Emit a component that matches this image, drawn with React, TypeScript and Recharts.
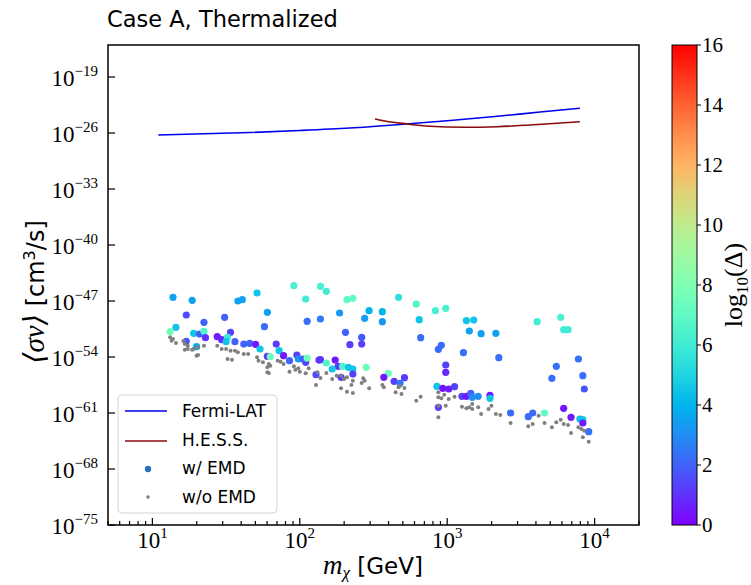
import React from "react";
import { ComposedChart, XAxis, YAxis, Line, Scatter } from "recharts";

// all values are log10 of the plotted quantity (log-log figure)
const fermiLogMass = [1.04, 1.66, 2.0, 2.34, 2.68, 3.02, 3.36, 3.63, 3.9];
const fermiLogSigma = [-26.25, -25.94, -25.69, -25.38, -24.94, -24.44, -23.88, -23.38, -22.91];

const hessLogMass = [2.51, 2.54, 2.73, 2.88, 3.11, 3.34, 3.56, 3.9];
const hessLogSigma = [-24.25, -24.38, -24.88, -25.16, -25.29, -25.21, -25.0, -24.59];

// [log10 m, log10 <sv>, log10 Delta]
const emdPoints: [number, number, number][] = [
  [1.14, -46.54, 3.5], [1.27, -46.91, 3.5], [1.23, -48.75, 1.5], [1.35, -49.66, 2.0],
  [1.16, -50.29, 4.5], [1.12, -50.84, 7.5], [1.28, -51.04, 4.5], [1.32, -51.13, 2.0],
  [1.35, -50.79, 6.5], [1.36, -51.59, 1.0], [1.23, -52.04, 1.8], [1.3, -52.71, 3.8],
  [1.49, -49.04, 2.0], [1.58, -47.0, 3.5], [1.61, -46.84, 3.5], [1.71, -46.0, 4.5],
  [1.76, -50.21, 2.2], [1.44, -51.46, 0.5], [1.47, -51.84, 0.8], [1.53, -50.91, 1.3],
  [1.51, -51.54, 6.0], [1.5, -52.09, 4.5], [1.56, -52.09, 2.0], [1.62, -52.38, 2.0],
  [1.66, -52.29, 2.0], [1.7, -52.41, 0.5], [1.73, -53.0, 4.5], [1.78, -53.91, 1.0],
  [1.96, -45.09, 6.3], [2.14, -45.16, 6.3], [2.18, -45.79, 6.0], [2.04, -46.75, 6.0],
  [2.32, -46.84, 7.0], [2.36, -46.66, 7.0], [2.67, -46.54, 5.5], [1.78, -48.41, 3.5],
  [2.05, -49.54, 2.2], [2.14, -49.25, 2.5], [2.27, -48.5, 3.3], [2.47, -48.21, 4.0],
  [2.44, -49.16, 3.3], [2.56, -48.33, 4.0], [2.56, -49.58, 3.2], [2.31, -50.91, 2.0],
  [2.42, -51.54, 1.8], [2.42, -52.38, 1.3], [2.34, -52.46, 1.3], [1.84, -52.38, 1.2],
  [1.86, -53.21, 4.5], [1.89, -53.83, 0.5], [1.8, -53.96, 7.5], [1.93, -54.46, 2.0],
  [1.98, -53.75, 1.3], [1.99, -54.25, 3.3], [2.04, -54.66, 1.3], [2.02, -54.25, 2.0],
  [2.05, -54.13, 7.5], [2.13, -54.38, 1.0], [2.14, -54.33, 1.0], [2.18, -54.75, 6.5],
  [2.24, -54.38, 0.5], [2.26, -55.16, 1.2], [2.22, -55.5, 4.5], [2.29, -55.16, 6.5],
  [2.33, -55.29, 4.5], [2.36, -55.5, 4.5], [2.36, -56.13, 1.3], [2.11, -56.21, 1.5],
  [2.28, -56.54, 1.0], [2.45, -55.29, 7.5], [2.6, -56.04, 7.5], [2.57, -56.54, 0.5],
  [2.64, -57.04, 1.2], [2.79, -47.38, 6.5], [2.92, -48.21, 6.3], [2.99, -47.91, 6.3],
  [2.81, -49.33, 4.5], [3.13, -49.46, 4.5], [3.18, -49.38, 4.5], [3.15, -50.75, 3.5],
  [3.23, -51.08, 3.5], [3.33, -51.04, 3.5], [2.82, -51.58, 2.2], [2.94, -53.04, 2.2],
  [2.96, -52.54, 2.2], [3.11, -53.46, 2.3], [3.35, -54.08, 2.3], [2.99, -55.0, 1.3],
  [2.99, -55.91, 0.8], [2.71, -56.58, 1.2], [2.68, -57.29, 2.5], [2.93, -57.66, 4.5],
  [2.97, -57.91, 0.3], [3.01, -58.0, 0.5], [3.05, -57.71, 1.3], [3.1, -58.91, 1.3],
  [3.13, -58.91, 0.5], [3.16, -58.54, 2.0], [3.17, -59.04, 3.0], [3.21, -58.91, 3.0],
  [3.29, -58.79, 0.5], [3.29, -59.16, 4.5], [2.94, -60.29, 1.3], [3.43, -61.0, 2.2],
  [3.55, -61.46, 2.2], [3.61, -49.58, 6.0], [3.77, -49.04, 6.3], [3.79, -50.58, 6.0],
  [3.82, -50.58, 6.0], [3.89, -54.25, 2.3], [3.74, -55.16, 2.3], [3.71, -56.66, 2.3],
  [3.92, -56.33, 2.3], [3.93, -58.0, 1.8], [3.79, -60.41, 0.5], [3.84, -61.54, 0.5],
  [3.9, -61.75, 4.3], [3.92, -61.84, 4.5], [3.92, -62.25, 0.5], [3.96, -63.33, 2.3],
  [3.58, -61.0, 2.2], [3.66, -61.0, 7.0],
];

// [log10 m, log10 <sv>]
const noEmdPoints: [number, number][] = [
  [1.12, -51.54], [1.14, -51.75], [1.16, -52.25], [1.13, -51.96], [1.22, -52.38],
  [1.24, -52.58], [1.22, -53.08], [1.28, -53.0], [1.31, -52.79], [1.35, -52.58],
  [1.3, -53.83], [1.27, -53.08], [1.21, -52.0], [1.31, -53.75], [1.24, -53.0],
  [1.44, -52.58], [1.47, -53.0], [1.5, -53.0], [1.53, -53.21], [1.56, -53.21],
  [1.51, -54.25], [1.54, -54.33], [1.58, -53.41], [1.62, -53.63], [1.65, -53.63],
  [1.71, -54.04], [1.72, -54.46], [1.75, -54.66], [1.79, -54.88], [1.78, -55.91],
  [1.78, -55.29], [1.8, -55.09], [1.79, -56.0], [1.85, -54.46], [1.87, -54.58],
  [1.89, -54.88], [1.93, -55.83], [1.96, -55.16], [1.97, -55.58], [1.99, -55.41],
  [2.0, -55.83], [2.04, -56.04], [2.06, -55.41], [2.12, -55.91], [2.14, -56.63],
  [2.11, -57.5], [2.18, -56.0], [2.22, -56.75], [2.25, -56.33], [2.28, -56.33],
  [2.3, -56.75], [2.32, -56.54], [2.36, -56.96], [2.35, -57.5], [2.28, -57.91],
  [2.32, -58.33], [2.36, -58.5], [2.43, -56.66], [2.44, -56.96], [2.42, -57.25],
  [2.47, -57.91], [2.56, -57.5], [2.57, -57.79], [2.65, -58.41], [2.67, -57.79],
  [2.69, -58.63], [2.71, -57.88], [2.68, -57.58], [2.79, -59.46], [2.82, -58.96],
  [2.94, -58.41], [2.94, -59.04], [2.96, -59.16], [2.98, -58.71], [3.01, -59.25],
  [2.94, -60.08], [2.99, -60.08], [2.94, -61.54], [3.05, -58.96], [3.1, -60.21],
  [3.13, -60.41], [3.15, -60.29], [3.17, -59.88], [3.17, -60.5], [3.21, -60.29],
  [3.23, -61.13], [3.28, -60.5], [3.3, -60.08], [3.33, -61.13], [3.36, -61.25],
  [3.43, -62.25], [3.55, -62.66], [3.58, -62.38], [3.62, -61.33], [3.66, -62.25],
  [3.71, -62.79], [3.74, -62.16], [3.77, -61.84], [3.79, -62.38], [3.82, -62.5],
  [3.84, -63.5], [3.89, -62.79], [3.91, -63.0], [3.93, -63.21], [3.92, -64.04],
  [3.96, -64.58],
];

const yTicks = [-75, -68, -61, -54, -47, -40, -33, -26, -19];
const xDecades = [0, 1, 2, 3, 4];
const cbTicks = [0, 2, 4, 6, 8, 10, 12, 14, 16];

const X_MIN = Math.log10(5);
const X_MAX = Math.log10(2e4);
const SERIF = "'Liberation Serif', 'DejaVu Serif', serif";
const SANS = "'DejaVu Sans', sans-serif";

// plot box in px
const L = 108, T = 45, R = 639, B = 525;
const CB = { x: 672, w: 25 };

// matplotlib "rainbow"
function rainbow(t: number) {
  const c = (v: number) => Math.round(255 * Math.min(1, Math.max(0, v)));
  const r = Math.abs(2 * t - 0.5);
  const g = Math.sin(Math.PI * t);
  const b = Math.cos((Math.PI * t) / 2);
  return `rgb(${c(r)},${c(g)},${c(b)})`;
}

const xTicks: number[] = [];
for (const d of xDecades) {
  for (let k = 1; k <= 9; k++) {
    const v = d + Math.log10(k);
    if (v >= X_MIN && v <= X_MAX) xTicks.push(v);
  }
}

const fermiData = fermiLogMass.map((x, i) => ({ x, y: fermiLogSigma[i] }));
const hessData = hessLogMass.map((x, i) => ({ x, y: hessLogSigma[i] }));
const emdData = emdPoints.map(([x, y, d]) => ({ x, y, d }));
const noEmdData = noEmdPoints.map(([x, y]) => ({ x, y }));

const minus = (v: number) => (v < 0 ? "\u2212" + Math.abs(v) : String(v));

const XTick = (props: any) => {
  const { x, y, payload } = props;
  const v = payload.value;
  const major = Math.abs(v - Math.round(v)) < 1e-6;
  return (
    <g>
      <line x1={x} x2={x} y1={y} y2={y - (major ? 7 : 4)} stroke="#000" strokeWidth={1.2} />
      {major && (
        <text x={x} y={y + 23} textAnchor="middle" fontFamily={SERIF} fontSize={23} fill="#000">
          10
          <tspan dy={-10} fontSize={15}>{minus(Math.round(v))}</tspan>
        </text>
      )}
    </g>
  );
};

const YTick = (props: any) => {
  const { x, y, payload } = props;
  return (
    <g>
      <line x1={x} x2={x + 7} y1={y} y2={y} stroke="#000" strokeWidth={1.2} />
      <text x={x - 10} y={y + 9} textAnchor="end" fontFamily={SERIF} fontSize={23} fill="#000">
        10
        <tspan dy={-10} fontSize={15}>{minus(payload.value)}</tspan>
      </text>
    </g>
  );
};

const EmdDot = (p: any) => <circle cx={p.cx} cy={p.cy} r={3.6} fill={rainbow(p.payload.d / 16)} />;
const NoEmdDot = (p: any) => <circle cx={p.cx} cy={p.cy} r={2} fill="#808080" />;

export default function App() {
  const gradStops = Array.from({ length: 17 }, (_, i) => i / 16);
  return (
    <div style={{ position: "relative", width: 751, height: 585, background: "#fff" }}>
      <style>{"body{margin:0}"}</style>
      <ComposedChart width={751} height={585} margin={{ top: T, right: 751 - R, bottom: 0, left: 0 }}>
        <XAxis
          type="number"
          dataKey="x"
          domain={[X_MIN, X_MAX]}
          allowDataOverflow
          ticks={xTicks}
          interval={0}
          tick={<XTick />}
          tickLine={false}
          axisLine={false}
          tickSize={0}
          tickMargin={0}
          height={585 - B}
        />
        <YAxis
          type="number"
          dataKey="y"
          domain={[-75, -15]}
          allowDataOverflow
          ticks={yTicks}
          interval={0}
          tick={<YTick />}
          tickLine={false}
          axisLine={false}
          tickSize={0}
          tickMargin={0}
          width={L}
        />
        <Line data={fermiData} dataKey="y" type="monotone" stroke="#0000ee" strokeWidth={1.6} dot={false} isAnimationActive={false} />
        <Line data={hessData} dataKey="y" type="monotone" stroke="#8b0a0a" strokeWidth={1.6} dot={false} isAnimationActive={false} />
        <Scatter data={emdData} dataKey="y" shape={EmdDot} isAnimationActive={false} />
        <Scatter data={noEmdData} dataKey="y" shape={NoEmdDot} isAnimationActive={false} />
      </ComposedChart>

      <svg width={751} height={585} style={{ position: "absolute", left: 0, top: 0, pointerEvents: "none" }}>
        <defs>
          <linearGradient id="rb" x1="0" y1="1" x2="0" y2="0">
            {gradStops.map((t) => (
              <stop key={t} offset={t} stopColor={rainbow(t)} />
            ))}
          </linearGradient>
        </defs>
        <rect x={L} y={T} width={R - L} height={B - T} fill="none" stroke="#000" strokeWidth={1.5} />

        <text x={107} y={27} fontFamily={SANS} fontSize={22.5} fill="#000">Case A, Thermalized</text>

        <text transform={`translate(44,292) rotate(-90)`} textAnchor="middle" fill="#000">
          <tspan fontFamily={SERIF} fontStyle="italic" fontSize={29}>{"\u27e8\u03c3v\u27e9"}</tspan>
          <tspan fontFamily={SANS} fontSize={24}> [cm</tspan>
          <tspan fontFamily={SANS} fontSize={16} dy={-9}>3</tspan>
          <tspan fontFamily={SANS} fontSize={24} dy={9}>/s]</tspan>
        </text>

        <text x={373} y={574} textAnchor="middle" fill="#000">
          <tspan fontFamily={SERIF} fontStyle="italic" fontSize={27}>m</tspan>
          <tspan fontFamily={SERIF} fontStyle="italic" fontSize={17} dy={4}>{"\u03c7"}</tspan>
          <tspan fontFamily={SANS} fontSize={23} dy={-4}> [GeV]</tspan>
        </text>

        <rect x={118} y={395} width={159} height={118} rx={4} fill="#fff" fillOpacity={0.8} stroke="#d4d4d4" />
        <line x1={125} x2={167} y1={411} y2={411} stroke="#0000ee" strokeWidth={1.6} />
        <line x1={125} x2={167} y1={441} y2={441} stroke="#8b0a0a" strokeWidth={1.6} />
        <circle cx={148} cy={469} r={3.2} fill="#2a70c0" />
        <circle cx={148} cy={497} r={1.8} fill="#808080" />
        {["Fermi-LAT", "H.E.S.S.", "w/ EMD", "w/o EMD"].map((s, i) => (
          <text key={s} x={182} y={417 + i * 28.7} fontFamily={SANS} fontSize={17} fill="#000">{s}</text>
        ))}

        <rect x={CB.x} y={T} width={CB.w} height={B - T} fill="url(#rb)" stroke="#000" strokeWidth={1} />
        {cbTicks.map((t) => {
          const y = B - (t / 16) * (B - T);
          return (
            <g key={t}>
              <line x1={CB.x + CB.w} x2={CB.x + CB.w + 4} y1={y} y2={y} stroke="#000" strokeWidth={1} />
              <text x={CB.x + CB.w + 5} y={y + 7} fontFamily={SERIF} fontSize={21} fill="#000">{t}</text>
            </g>
          );
        })}
        <text transform={`translate(742,285) rotate(-90)`} textAnchor="middle" fontFamily={SERIF} fontSize={26} fill="#000">
          log
          <tspan fontSize={17} dy={6}>10</tspan>
          <tspan dy={-6}>({"\u0394"})</tspan>
        </text>
      </svg>
    </div>
  );
}
